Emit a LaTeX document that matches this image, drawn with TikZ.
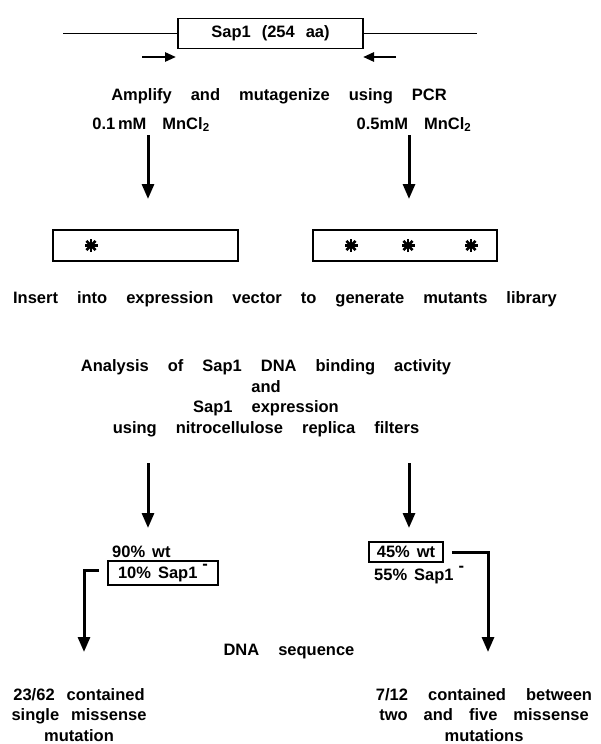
\documentclass[tikz,border=0pt]{standalone}
\usepackage{fontspec}
\setmainfont{Liberation Sans}
\usetikzlibrary{arrows.meta}
\newcommand{\gap}[1]{\hspace{#1pt}}
\newcommand{\G}{\hspace{19pt}}
\newcommand{\supminus}{\hspace{5pt}\raisebox{0.5em}{-}}
\tikzset{
  arr/.style={line width=3pt,-{Triangle[length=15pt,width=12pt]}},
  sarr/.style={line width=2.6pt,-{Triangle[length=11pt,width=9pt]}},
  frame/.style={draw,line width=1.8pt,inner sep=0pt,font=\fontsize{16.5}{20}\selectfont\bfseries},
  wtxt/.style={inner sep=0pt,font=\fontsize{16.5}{20}\selectfont\bfseries,anchor=base},
  ntxt/.style={wtxt,anchor=base west},
  star/.style={line width=2.8pt}
}
\newcommand{\mystar}[1]{%
  \foreach \ang in {0,45,90,135}{\draw[star] (#1) ++(\ang:6.5) -- ++(\ang+180:13);}}
\begin{document}
\begin{tikzpicture}[x=1pt,y=-1pt]
\useasboundingbox (0,0) rectangle (601,744);
% gene
\node[frame,minimum width=185,minimum height=30] (sap) at (270.5,33.5) {Sap1\gap{11}(254\gap{11}aa)};
\coordinate (lineL) at (63,33.5);
\coordinate (lineR) at (477,33.5);
\draw[line width=1.8pt] (lineL) -- (sap.west);
\draw[line width=1.8pt] (sap.east) -- (lineR);
\coordinate (p1s) at (142,57); \coordinate (p1e) at (176,57);
\coordinate (p2s) at (396,57); \coordinate (p2e) at (363,57);
\draw[sarr] (p1s) -- (p1e);
\draw[sarr] (p2s) -- (p2e);
\node[wtxt] (amp) at (279,100) {Amplify\G and\G mutagenize\G using\G PCR};
\node[wtxt] (mn1) at (151,129) {0.1\,mM\gap{16}MnCl\textsubscript{2}};
\node[wtxt] (mn2) at (414,129) {0.5mM\gap{16}MnCl\textsubscript{2}};
\coordinate (a1s) at (148,135); \coordinate (a1e) at (148,199);
\coordinate (a2s) at (409,135); \coordinate (a2e) at (409,199);
\draw[arr] (a1s) -- (a1e);
\draw[arr] (a2s) -- (a2e);
% mutant fragments
\node[frame,minimum width=185,minimum height=31] (b1) at (145.5,245.5) {};
\node[frame,minimum width=184,minimum height=31] (b2) at (405,245.5) {};
\coordinate (s1) at (91,245.5);
\coordinate (s2) at (351,245.5);
\coordinate (s3) at (408,245.5);
\coordinate (s4) at (471,245.5);
\mystar{s1}\mystar{s2}\mystar{s3}\mystar{s4}
\node[wtxt] (ins) at (285,303) {Insert\G into\G expression\G vector\G to\G generate\G mutants\G library};
\node[wtxt] (ana1) at (266,371.5) {Analysis\G of\G Sap1\G DNA\G binding\G activity};
\node[wtxt] (ana2) at (266,392) {and};
\node[wtxt] (ana3) at (266,412.5) {Sap1\G expression};
\node[wtxt] (ana4) at (266,433) {using\G nitrocellulose\G replica\G filters};
\coordinate (a3s) at (148,463); \coordinate (a3e) at (148,528);
\coordinate (a4s) at (409,463); \coordinate (a4e) at (409,528);
\draw[arr] (a3s) -- (a3e);
\draw[arr] (a4s) -- (a4e);
% results
\node[ntxt] (n90) at (112,557) {90\%\gap{7}wt};
\node[frame,minimum width=110,minimum height=24] (n10) at (163,573) {10\%\gap{7}Sap1\supminus};
\node[frame,minimum width=74,minimum height=20] (n45) at (406,552) {45\%\gap{7}wt};
\node[ntxt] (n55) at (374,580) {55\%\gap{7}Sap1\supminus};
\coordinate (e1) at (84,652);
\coordinate (e2) at (488,652);
\draw[arr] ([shift={(-8,-3)}]n10.west) -| (e1);
\draw[arr] ([xshift=8pt]n45.east) -| (e2);
\node[wtxt] (dna) at (289,655) {DNA\G sequence};
\node[wtxt] (l1) at (79,700) {23/62\gap{12}contained};
\node[wtxt] (l2) at (79,720.5) {single\gap{12}missense};
\node[wtxt] (l3) at (79,741) {mutation};
\node[wtxt] (r1) at (484,700) {7/12\gap{20}contained\gap{20}between};
\node[wtxt] (r2) at (484,720.5) {two\gap{16}and\gap{16}five\gap{16}missense};
\node[wtxt] (r3) at (484,741) {mutations};
\end{tikzpicture}
\end{document}
